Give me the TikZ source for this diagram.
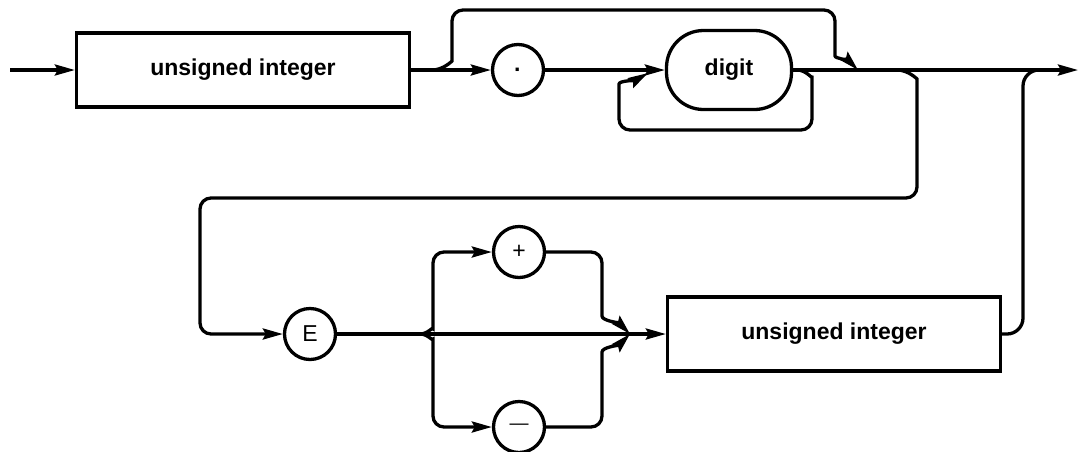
\documentclass[tikz,border=0pt]{standalone}
\usepackage{fontspec}
\setmainfont{Liberation Sans}
\usetikzlibrary{arrows.meta}
\tikzstyle{nonterm} = [rectangle, minimum width=333pt, minimum height=74pt, text centered, draw=black, line width=3.3pt, font=\fontsize{23}{26}\selectfont\bfseries]
\tikzstyle{oval} = [rectangle, rounded corners=37pt, minimum width=125pt, minimum height=79pt, text centered, draw=black, line width=3.3pt, font=\fontsize{23}{26}\selectfont\bfseries]
\tikzstyle{term} = [circle, minimum size=51pt, inner sep=0pt, draw=black, line width=3.3pt, font=\fontsize{23}{26}\selectfont]
\tikzstyle{line} = [line width=3.3pt, rounded corners=11pt]
\tikzstyle{arrow} = [line, -{Stealth[length=20pt,width=11pt,inset=3pt]}]

\begin{document}
\begin{tikzpicture}[x=1pt, y=-1pt]
        \useasboundingbox (0,0) rectangle (1079,451);

        % first row
        \coordinate (in) at (10,70);
        \node (uint1) [nonterm] at (243,70) {unsigned integer};
        \node (point) [term] at (518,70) {\smash{\raisebox{-7pt}{\bfseries ·}}};
        \node (digit) [oval] at (729,70) {digit};
        \coordinate (out) at (1078,70);

        % second row
        \node (expo) [term] at (310,334) {E};
        \node (plus) [term] at (519,252) {+};
        \node (minus) [term] at (519,427) {{\fontsize{19}{20}\selectfont —}};
        \node (uint2) [nonterm] at (834,334) {unsigned integer};

        % branch points
        \coordinate (skip) at (432,70);
        \coordinate (join) at (858,70);
        \coordinate (rep) at (797,70);
        \coordinate (back) at (648,73);
        \coordinate (down) at (897,70);
        \coordinate (sign) at (420,334);
        \coordinate (merge) at (630,334);

        \draw [arrow] (in) -- (uint1);
        \draw [arrow] (uint1) -- (point);
        \draw [arrow] (point) -- (digit);
        \draw [arrow] (digit) -- (out);
        \draw [arrow] (skip) to[out=0,in=-90] (452,50) -- (452,10) -- (835,10) -- (835,45) to[out=-90,in=135] (join);
        \draw [arrow] (rep) to[out=0,in=90] (812,88) -- (812,130) -- (619,130) -- (619,95) to[out=90,in=-150] (back);
        \draw [arrow] (down) to[out=0,in=90] (917,90) -- (917,198) -- (200,198) -- (200,334) -- (expo);

        \draw [arrow] (expo) -- (uint2);
        \draw [arrow] (sign) to[out=0,in=-90] (433,318) -- (433,252) -- (plus);
        \draw [arrow] (sign) to[out=0,in=90] (433,350) -- (433,427) -- (minus);
        \draw [arrow] (plus) -- (602,252) -- (602,305) to[out=-90,in=135] (merge);
        \draw [arrow] (minus) -- (602,427) -- (602,363) to[out=90,in=-135] (merge);
        \draw [line, rounded corners=16pt] (uint2) -- (1023,334) -- (1023,70) -- (1048,70);
    \end{tikzpicture}
\end{document}
